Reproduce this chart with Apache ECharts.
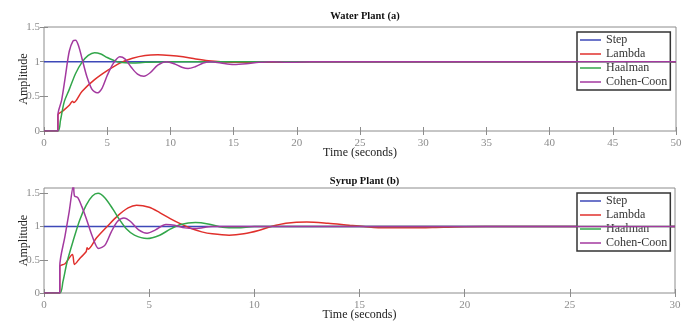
<!DOCTYPE html>
<html>
<head>
<meta charset="utf-8">
<script src="https://cdn.jsdelivr.net/npm/echarts@6/dist/echarts.min.js"></script>
<style>
  html, body { margin: 0; padding: 0; background: #fff; }
  #chart { width: 693px; height: 324px; }
</style>
</head>
<body>
<div id="chart"></div>
<script>
// series names (legend order)
const names = ["Step", "Lambda", "Haalman", "Cohen-Coon"];
const colors = ["#3d48b8", "#e0302c", "#32a64a", "#a3399f"];
const yTicks = [0, 0.5, 1, 1.5];

// Water Plant (a)
const waterStepT = [0, 50];
const waterStepV = [1, 1];
const waterLambdaT = [0, 1.1, 1.1, 1.5, 2.0, 2.25, 2.35, 3.0, 4.0, 5.0, 6.0, 7.0, 8.0, 9.0, 10.0, 11.0, 12.0, 13.0, 14.0, 15.5, 18.0, 21.0, 50];
const waterLambdaV = [0, 0, 0.23, 0.29, 0.37, 0.43, 0.41, 0.57, 0.74, 0.87, 0.98, 1.05, 1.09, 1.1, 1.09, 1.07, 1.04, 1.015, 1.0, 0.99, 0.99, 1.0, 1.0];
const waterHaalmanT = [0, 1.1, 1.3, 1.6, 2.0, 2.5, 3.0, 3.5, 4.0, 4.5, 5.0, 5.5, 6.0, 7.0, 8.0, 10.0, 50];
const waterHaalmanV = [0, 0, 0.15, 0.42, 0.6, 0.83, 0.99, 1.09, 1.13, 1.11, 1.06, 1.02, 0.99, 0.98, 0.99, 1.0, 1.0];
const waterCohenT = [0, 1.1, 1.1, 1.4, 1.7, 2.0, 2.3, 2.5, 2.75, 3.0, 3.4, 3.8, 4.2, 4.6, 5.0, 5.5, 6.0, 6.4, 6.9, 7.4, 7.9, 8.4, 9.0, 9.7, 10.3, 10.9, 11.4, 12.0, 12.6, 13.2, 14.0, 15.0, 16.0, 17.0, 18.0, 19.5, 21.0, 50];
const waterCohenV = [0, 0, 0.23, 0.45, 0.8, 1.15, 1.3, 1.31, 1.22, 1.05, 0.78, 0.6, 0.55, 0.62, 0.8, 0.98, 1.07, 1.04, 0.92, 0.82, 0.79, 0.84, 0.95, 1.0, 0.97, 0.92, 0.9, 0.93, 0.98, 1.0, 0.98, 0.96, 0.97, 0.99, 1.0, 0.99, 1.0, 1.0];

// Syrup Plant (b)
const syrupStepT = [0, 30];
const syrupStepV = [1, 1];
const syrupLambdaT = [0, 0.75, 0.75, 1.0, 1.35, 1.45, 1.7, 2.0, 2.05, 2.1, 2.5, 3.0, 3.5, 4.0, 4.4, 5.0, 5.5, 6.0, 6.5, 7.0, 7.5, 8.0, 8.8, 9.5, 10.2, 10.8, 11.5, 12.5, 13.5, 14.5, 15.2, 16.2, 17.5, 19.0, 21.0, 30];
const syrupLambdaV = [0, 0, 0.4, 0.44, 0.58, 0.43, 0.52, 0.62, 0.68, 0.66, 0.83, 1.0, 1.16, 1.28, 1.32, 1.29, 1.21, 1.12, 1.04, 0.97, 0.92, 0.89, 0.87, 0.89, 0.94, 1.0, 1.05, 1.07, 1.05, 1.02, 1.0, 0.98, 0.98, 0.99, 1.0, 1.0];
const syrupHaalmanT = [0, 0.75, 0.9, 1.1, 1.4, 1.7, 2.0, 2.3, 2.57, 2.9, 3.3, 3.6, 3.9, 4.3, 4.9, 5.5, 6.0, 6.5, 7.2, 7.8, 8.5, 9.2, 10.0, 30];
const syrupHaalmanV = [0, 0, 0.17, 0.47, 0.8, 1.1, 1.32, 1.46, 1.5, 1.43, 1.25, 1.1, 0.97, 0.87, 0.82, 0.87, 0.96, 1.03, 1.06, 1.04, 0.99, 0.98, 1.0, 1.0];
const syrupCohenT = [0, 0.75, 0.75, 1.0, 1.2, 1.4, 1.45, 1.6, 1.8, 2.0, 2.3, 2.6, 2.9, 3.2, 3.5, 3.8, 4.1, 4.5, 4.9, 5.3, 5.8, 6.2, 6.7, 7.2, 8.0, 30];
const syrupCohenV = [0, 0, 0.4, 0.86, 1.23, 1.62, 1.46, 1.44, 1.3, 1.13, 0.85, 0.67, 0.72, 0.92, 1.08, 1.13, 1.08, 0.95, 0.9, 0.95, 1.03, 1.02, 0.98, 0.97, 1.0, 1.0];

const zip = (t, v) => t.map((x, i) => [x, v[i]]);

const plots = [
  { title: "Water Plant (a)", xMax: 50, yMax: 1.5, top: 27, height: 104, width: 632, titleTop: 6,
    series: [[waterStepT, waterStepV], [waterLambdaT, waterLambdaV], [waterHaalmanT, waterHaalmanV], [waterCohenT, waterCohenV]],
    legendTop: 32 },
  { title: "Syrup Plant (b)", xMax: 30, yMax: 1.58, top: 188, height: 105, width: 631, titleTop: 171,
    series: [[syrupStepT, syrupStepV], [syrupLambdaT, syrupLambdaV], [syrupHaalmanT, syrupHaalmanV], [syrupCohenT, syrupCohenV]],
    legendTop: 193 }
];

const font = "Liberation Serif";
const gray = "#8c8c8c";

const option = {
  animation: false,
  backgroundColor: "#fff",
  textStyle: { fontFamily: font },
  title: [],
  legend: [],
  grid: [],
  xAxis: [],
  yAxis: [],
  series: []
};

plots.forEach((p, g) => {
  option.grid.push({
    left: 44, top: p.top, width: p.width, height: p.height,
    show: true, borderColor: gray, borderWidth: 1,
    outerBoundsMode: "none", containLabel: false
  });
  option.title.push({
    text: p.title, left: 44 + p.width / 2, top: p.titleTop, textAlign: "center",
    textStyle: { fontFamily: font, fontSize: 10.5, fontWeight: "bold", color: "#111" }
  });
  const tick = { show: true, inside: true, length: 4, lineStyle: { color: gray } };
  const yTick = Object.assign({ customValues: yTicks }, tick);
  option.xAxis.push({
    type: "value", gridIndex: g, min: 0, max: p.xMax, interval: 5,
    name: "Time (seconds)", nameLocation: "middle", nameGap: 16, nameMoveOverlap: false,
    nameTextStyle: { fontFamily: font, fontSize: 12, color: "#222" },
    axisLine: { show: false }, axisTick: tick, splitLine: { show: false },
    axisLabel: { fontFamily: font, fontSize: 11, color: gray, margin: 7 }
  });
  option.xAxis.push({
    type: "value", gridIndex: g, position: "top", min: 0, max: p.xMax, interval: 5,
    axisLine: { show: false }, axisTick: tick, splitLine: { show: false },
    axisLabel: { show: false }
  });
  option.yAxis.push({
    type: "value", gridIndex: g, min: 0, max: p.yMax, interval: 0.5,
    name: "Amplitude", nameLocation: "middle", nameGap: 14, nameRotate: 90, nameMoveOverlap: false,
    nameTextStyle: { fontFamily: font, fontSize: 12, color: "#222" },
    axisLine: { show: false }, axisTick: yTick, splitLine: { show: false },
    axisLabel: { fontFamily: font, fontSize: 11, color: gray, margin: 4, customValues: yTicks }
  });
  option.yAxis.push({
    type: "value", gridIndex: g, position: "right", min: 0, max: p.yMax, interval: 0.5,
    axisLine: { show: false }, axisTick: yTick, splitLine: { show: false },
    axisLabel: { show: false }
  });
  option.legend.push({
    data: names.map(n => ({ name: n, icon: "rect" })), orient: "vertical", left: 577, top: p.legendTop,
    itemWidth: 21, itemHeight: 1.5, itemGap: 2,
    padding: [2, 3, 2, 3],
    backgroundColor: "#fff", borderColor: "#333", borderWidth: 1.5,
    textStyle: { fontFamily: font, fontSize: 12, color: "#333", lineHeight: 12 }
  });
  p.series.forEach((s, i) => {
    option.series.push({
      name: names[i], type: "line", xAxisIndex: g * 2, yAxisIndex: g * 2,
      data: zip(s[0], s[1]), symbol: "none", smooth: 0.3,
      color: colors[i], lineStyle: { width: 1.5, color: colors[i] }, z: 2 + i
    });
  });
});

const chart = echarts.init(document.getElementById("chart"));
chart.setOption(option);
window.addEventListener("resize", () => chart.resize());
</script>
</body>
</html>
